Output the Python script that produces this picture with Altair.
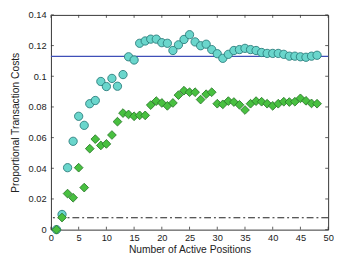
import altair as alt
import pandas as pd

positions = list(range(1, 49))
cyan_vals = [0.0, 0.0099, 0.0404, 0.0576, 0.0739, 0.068, 0.0821, 0.0842, 0.0966, 0.0933,
             0.0986, 0.0935, 0.1011, 0.1127, 0.1106, 0.1215, 0.123, 0.1242, 0.1242, 0.1219,
             0.1215, 0.1168, 0.1205, 0.124, 0.1271, 0.1224, 0.1199, 0.1209, 0.1174, 0.1147,
             0.1117, 0.1143, 0.1168, 0.1174, 0.1182, 0.1174, 0.1168, 0.1155, 0.1149, 0.1149,
             0.1149, 0.1143, 0.1131, 0.1131, 0.1127, 0.1124, 0.1131, 0.1137]
green_vals = [0.0, 0.0079, 0.0235, 0.0208, 0.0404, 0.0274, 0.0528, 0.059, 0.0549, 0.0559,
              0.0617, 0.0704, 0.076, 0.0751, 0.0739, 0.0745, 0.0745, 0.0812, 0.0838, 0.0826,
              0.0807, 0.0826, 0.0877, 0.0906, 0.0896, 0.0896, 0.0848, 0.0883, 0.0896, 0.0821,
              0.0817, 0.0838, 0.0832, 0.0814, 0.078, 0.0821, 0.0838, 0.0834, 0.0821, 0.0807,
              0.0821, 0.0834, 0.0832, 0.0834, 0.0856, 0.084, 0.0823, 0.0821]
blue_level = [0.113]
dashdot_level = [0.0078]
x_ticks = [0, 5, 10, 15, 20, 25, 30, 35, 40, 45, 50]
y_ticks = [0, 0.02, 0.04, 0.06, 0.08, 0.1, 0.12, 0.14]

df_c = pd.DataFrame({"x": positions, "y": cyan_vals})
df_g = pd.DataFrame({"x": positions, "y": green_vals})
df_xt = pd.DataFrame({"t": x_ticks})
df_yt = pd.DataFrame({"t": y_ticks})

W, H = 284, 220
xs = alt.Scale(domain=[0, 50], nice=False, zero=False)
ys = alt.Scale(domain=[0, 0.14], nice=False, zero=False)
FONT = "Liberation Sans"

xax = alt.Axis(values=x_ticks, labelExpr="format(datum.value, '')",
               title="Number of Active Positions", titlePadding=3, labelPadding=3)
yax = alt.Axis(values=y_ticks, labelExpr="format(datum.value, '')",
               title="Proportional Transaction Costs", titlePadding=8, labelPadding=5)

cyan = alt.Chart(df_c).mark_point(shape="circle", filled=True, size=72, fill="#6ad6cc",
                                  stroke="#2a7c7a", strokeWidth=0.9, opacity=1).encode(
    x=alt.X("x:Q", scale=xs, axis=xax),
    y=alt.Y("y:Q", scale=ys, axis=yax),
)
green = alt.Chart(df_g).mark_point(shape="diamond", filled=True, size=80, fill="#48c040",
                                   stroke="#2b7a2b", strokeWidth=0.9, opacity=1).encode(
    x=alt.X("x:Q", scale=xs, axis=xax),
    y=alt.Y("y:Q", scale=ys, axis=yax),
)
blue = alt.Chart(pd.DataFrame({"y": blue_level})).mark_rule(color="#3f4fb8", strokeWidth=1.3).encode(
    y=alt.Y("y:Q", scale=ys, axis=yax))
dash = alt.Chart(pd.DataFrame({"y": dashdot_level})).mark_rule(
    color="#222", strokeWidth=1.1, strokeDash=[7, 3, 2, 3]).encode(y=alt.Y("y:Q", scale=ys, axis=yax))

tick_col = "#333"
xt_bottom = alt.Chart(df_xt).mark_rule(color=tick_col, strokeWidth=0.8).encode(
    x=alt.X("t:Q", scale=xs, axis=xax), y=alt.value(H), y2=alt.value(H - 3))
xt_top = alt.Chart(df_xt).mark_rule(color=tick_col, strokeWidth=0.8).encode(
    x=alt.X("t:Q", scale=xs, axis=xax), y=alt.value(0), y2=alt.value(3))
yt_left = alt.Chart(df_yt).mark_rule(color=tick_col, strokeWidth=0.8).encode(
    y=alt.Y("t:Q", scale=ys, axis=yax), x=alt.value(0), x2=alt.value(3))
yt_right = alt.Chart(df_yt).mark_rule(color=tick_col, strokeWidth=0.8).encode(
    y=alt.Y("t:Q", scale=ys, axis=yax), x=alt.value(W), x2=alt.value(W - 3))

chart = alt.layer(blue, dash, xt_bottom, xt_top, yt_left, yt_right, cyan, green).properties(
    width=W, height=H,
    padding={"left": 44, "top": 4, "right": 6, "bottom": 27},
    autosize=alt.AutoSizeParams(type="none"),
    background="white",
).configure_view(stroke="#333", strokeWidth=1).configure_axis(
    grid=False, ticks=False, domain=False, labelFontSize=9.5, labelColor="#222",
    labelOverlap=False, labelFlush=False, labelFont=FONT, titleFont=FONT,
    titleFontSize=10.5, titleFontWeight="normal", titleColor="#222",
)

chart.save("out.html", embed_options={"renderer": "svg", "actions": False})
